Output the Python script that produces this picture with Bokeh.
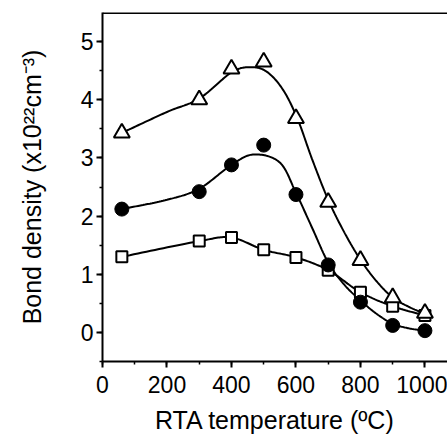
import numpy as np
from bokeh.plotting import figure
from bokeh.models import Range1d, FixedTicker, ColumnDataSource, Span
from bokeh.embed import file_html
from bokeh.resources import INLINE

# measured data
temp = [60, 300, 400, 500, 600, 700, 800, 900, 1000]
tri_vals = [3.43, 4.0, 4.53, 4.65, 3.68, 2.24, 1.24, 0.60, 0.33]
circ_vals = [2.12, 2.42, 2.88, 3.22, 2.37, 1.16, 0.52, 0.12, 0.03]
sq_vals = [1.30, 1.57, 1.63, 1.42, 1.29, 1.07, 0.69, 0.45, 0.29]

# fitted guide curves
tri_fit_x = [60, 200, 300, 400, 460, 510, 560, 605, 650, 700, 750, 800, 850, 900, 950, 1000]
tri_fit_y = [3.43, 3.79, 4.02, 4.47, 4.56, 4.48, 4.17, 3.67, 2.98, 2.28, 1.72, 1.25, 0.88, 0.60, 0.44, 0.32]
circ_fit_x = [60, 200, 300, 400, 470, 550, 600, 650, 700, 750, 800, 850, 900, 950, 1000]
circ_fit_y = [2.12, 2.28, 2.47, 2.88, 3.06, 2.92, 2.40, 1.80, 1.20, 0.82, 0.55, 0.32, 0.15, 0.07, 0.03]
sq_fit_x = temp
sq_fit_y = sq_vals

x_ticks = [0, 200, 400, 600, 800, 1000]
y_ticks = [0, 1, 2, 3, 4, 5]
y_top = 5.5


def smooth(xs, ys, n=20):
    """Catmull-Rom rendering of a curve through the given knots."""
    xs = np.asarray(xs, float); ys = np.asarray(ys, float)
    px = np.concatenate([[2 * xs[0] - xs[1]], xs, [2 * xs[-1] - xs[-2]]])
    py = np.concatenate([[2 * ys[0] - ys[1]], ys, [2 * ys[-1] - ys[-2]]])
    ox, oy = [], []
    for i in range(1, len(px) - 2):
        t = np.linspace(0, 1, n, endpoint=(i == len(px) - 3))
        for arr, out in ((px, ox), (py, oy)):
            p0, p1, p2, p3 = arr[i - 1], arr[i], arr[i + 1], arr[i + 2]
            out.extend(0.5 * ((2 * p1) + (-p0 + p2) * t + (2 * p0 - 5 * p1 + 4 * p2 - p3) * t ** 2
                              + (-p0 + 3 * p1 - 3 * p2 + p3) * t ** 3))
    return ox, oy


FONT = "Liberation Sans"

p = figure(width=447, height=436, output_backend="svg", toolbar_location=None,
           x_range=Range1d(0, 1070), y_range=Range1d(-0.5, y_top),
           min_border_left=102, min_border_right=0, min_border_top=12, min_border_bottom=73)
p.background_fill_color = "white"
p.border_fill_color = "white"
p.outline_line_color = None
p.grid.visible = False

for xs, ys in ((tri_fit_x, tri_fit_y), (circ_fit_x, circ_fit_y), (sq_fit_x, sq_fit_y)):
    cx, cy = smooth(xs, ys)
    p.line(cx, cy, line_color="black", line_width=2)

src = ColumnDataSource(dict(t=temp, tri=tri_vals, circ=circ_vals, sq=sq_vals))
p.scatter("t", "sq", source=src, marker="square", size=11, fill_color="white",
          line_color="black", line_width=2)
p.scatter("t", "circ", source=src, marker="circle", size=14, fill_color="black",
          line_color="black", line_width=1)
p.scatter("t", "tri", source=src, marker="triangle", size=16, fill_color="white",
          line_color="black", line_width=2)

for ax in (p.xaxis[0], p.yaxis[0]):
    ax.axis_line_width = 2
    ax.axis_line_color = "black"
    ax.major_tick_line_width = 2
    ax.minor_tick_line_width = 1.5
    ax.major_tick_in = 0
    ax.major_tick_out = 6
    ax.minor_tick_in = 0
    ax.minor_tick_out = 3
    ax.major_label_text_font = FONT
    ax.major_label_text_font_size = "23px"
    ax.major_label_text_color = "black"
    ax.axis_label_text_font = FONT
    ax.axis_label_text_font_size = "25px"
    ax.axis_label_text_font_style = "normal"
    ax.axis_label_text_color = "black"

p.xaxis[0].ticker = FixedTicker(ticks=x_ticks, minor_ticks=list(range(0, 1001, 100)))
p.yaxis[0].ticker = FixedTicker(ticks=y_ticks, minor_ticks=[v / 2 for v in range(-1, 11)])
p.xaxis[0].axis_label = "RTA temperature (ºC)"
p.yaxis[0].axis_label = "Bond density (x10²²cm⁻³)"
p.xaxis[0].major_label_standoff = 8
p.yaxis[0].major_label_standoff = 3
p.xaxis[0].axis_label_standoff = 10
p.yaxis[0].axis_label_standoff = 32

p.add_layout(Span(location=y_top, dimension="width", line_color="black", line_width=3))

open("out.html", "w").write(file_html(p, INLINE))
